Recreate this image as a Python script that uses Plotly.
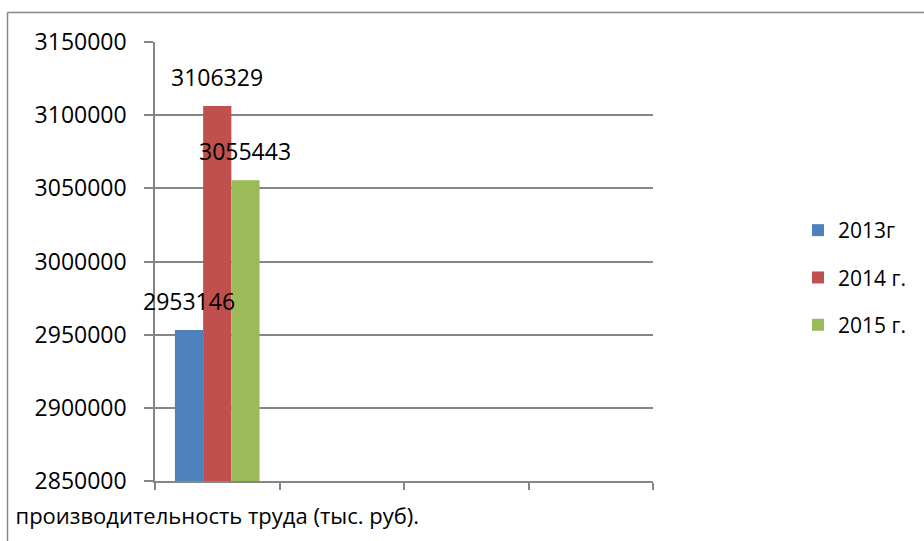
import plotly.graph_objects as go

series_names = ["2013г", "2014 г.", "2015 г."]
series_values = [2953146, 3106329, 3055443]
series_colors = ["#4F81BD", "#C0504D", "#9BBB59"]
category_label = "производительность труда (тыс. руб)."
y_ticks = [2850000, 2900000, 2950000, 3000000, 3050000, 3100000, 3150000]

FONT = "Open Sans"
GRID = "#868686"
BARGAP = 0.32

fig = go.Figure()
for i, (name, val, col) in enumerate(zip(series_names, series_values, series_colors)):
    fig.add_trace(go.Bar(
        x=[0], y=[val], name=name, marker=dict(color=col, line=dict(width=0)),
        legendgroup=name,
    ))

w = (1 - BARGAP) / len(series_names)
for i, val in enumerate(series_values):
    fig.add_annotation(
        x=(i - 1) * w, y=val, xref="x", yref="y", text=str(val),
        showarrow=False, yanchor="bottom", yshift=11,
        font=dict(family=FONT, size=23, color="black"),
    )

# outer chart frame (top and left edges)
L, R, T, B = 155, 653, 42, 481
def px_x(px):
    return (px - L) / (R - L)
def px_y(py):
    return (B - py) / (B - T)

fig.add_shape(type="line", xref="paper", yref="paper",
              x0=px_x(7.5), x1=px_x(930), y0=px_y(12.5), y1=px_y(12.5),
              line=dict(color=GRID, width=1.5))
fig.add_shape(type="line", xref="paper", yref="paper",
              x0=px_x(7.5), x1=px_x(7.5), y0=px_y(12.5), y1=px_y(560),
              line=dict(color=GRID, width=1.5))

fig.update_layout(
    width=924, height=541,
    margin=dict(l=L, r=924 - R, t=T, b=541 - B),
    paper_bgcolor="white", plot_bgcolor="white",
    barmode="group", bargap=BARGAP, bargroupgap=0,
    font=dict(family=FONT, color="black"),
    showlegend=True,
    legend=dict(x=px_x(798), y=px_y(210), xanchor="left", yanchor="top",
                font=dict(family=FONT, size=21, color="black"),
                tracegroupgap=17, bgcolor="rgba(0,0,0,0)"),
    xaxis=dict(
        range=[-0.5, 3.5], tickmode="array", tickvals=[0], ticktext=[category_label],
        ticks="", showgrid=False, zeroline=False,
        showline=True, linecolor=GRID, linewidth=1.5,
        tickfont=dict(family=FONT, size=22, color="black"),
        ticklabelstandoff=15,
        minor=dict(tickmode="array", tickvals=[-0.5, 0.5, 1.5, 2.5, 3.5],
                   ticks="outside", ticklen=7, tickcolor=GRID, tickwidth=1.5,
                   showgrid=False),
        fixedrange=True,
    ),
    yaxis=dict(
        range=[y_ticks[0], y_ticks[-1]], tickmode="array", tickvals=y_ticks,
        ticktext=[str(v) for v in y_ticks],
        ticks="outside", ticklen=9, tickcolor=GRID, tickwidth=1.5,
        showgrid=True, gridcolor=GRID, gridwidth=1.5,
        showline=True, linecolor=GRID, linewidth=1.5, zeroline=False,
        tickfont=dict(family=FONT, size=23, color="black"),
        ticklabelstandoff=13,
        fixedrange=True,
    ),
)

fig.write_html("out.html")
